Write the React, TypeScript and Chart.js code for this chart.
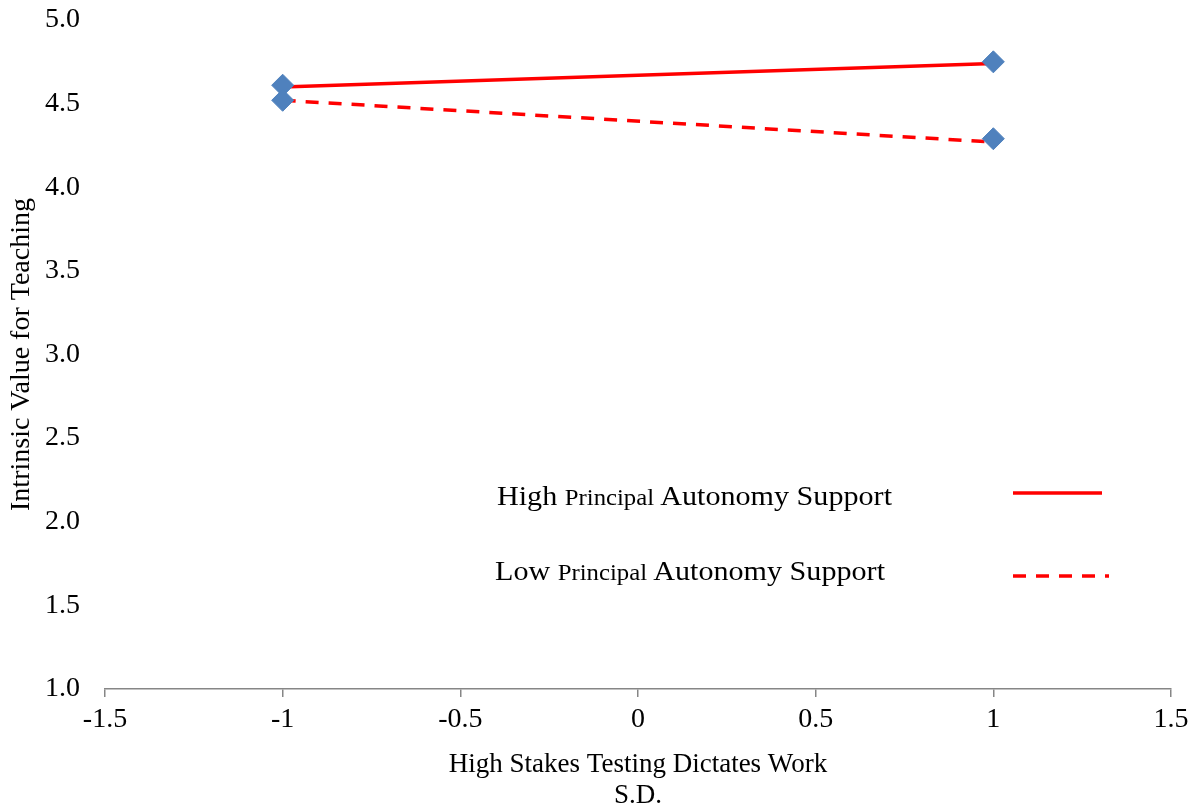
import React, { useEffect, useRef } from "react";
import { Chart, registerables } from "chart.js";

Chart.register(...registerables);

const xTicks = [-1.5, -1, -0.5, 0, 0.5, 1, 1.5];
const yMin = 1;
const yMax = 5;
const yStep = 0.5;

const pointX = [-1, -1, 1, 1];
const pointY = [4.61, 4.52, 4.75, 4.29];

const highX = [-1, 1];
const highY = [4.6, 4.74];

const lowX = [-1, 1];
const lowY = [4.52, 4.27];

const seriesNames = ["High Principal Autonomy Support", "Low Principal Autonomy Support"];
const xTitle = ["High Stakes Testing Dictates Work", "S.D."];
const yTitle = "Intrinsic Value for Teaching";

const FONT = "'Liberation Serif', 'Times New Roman', serif";
const RED = "#FF0000";
const BLUE = "#4F81BD";

const legendPlugin = {
  id: "customLegend",
  afterDraw(chart: any) {
    const ctx = chart.ctx as CanvasRenderingContext2D;
    const rows = [
      { label: seriesNames[0], x: 497, baseline: 505, width: 395, lineY: 493, x1: 1013, x2: 1102, dash: [] as number[] },
      { label: seriesNames[1], x: 495, baseline: 580, width: 390, lineY: 576, x1: 1013, x2: 1109, dash: [13, 10] },
    ];
    rows.forEach((r) => {
      const words = r.label.split(" ");
      const parts = [
        { t: words[0] + " ", size: 28 },
        { t: words[1] + " ", size: 23 },
        { t: words.slice(2).join(" "), size: 28 },
      ];
      ctx.save();
      ctx.fillStyle = "#000";
      ctx.textBaseline = "alphabetic";
      ctx.textAlign = "left";
      let natural = 0;
      parts.forEach((p) => {
        ctx.font = `${p.size}px ${FONT}`;
        natural += ctx.measureText(p.t).width;
      });
      const sx = r.width / natural;
      ctx.translate(r.x, r.baseline);
      ctx.scale(sx, 1);
      let cx = 0;
      parts.forEach((p) => {
        ctx.font = `${p.size}px ${FONT}`;
        ctx.fillText(p.t, cx, 0);
        cx += ctx.measureText(p.t).width;
      });
      ctx.restore();

      ctx.save();
      ctx.strokeStyle = RED;
      ctx.lineWidth = 3.5;
      ctx.setLineDash(r.dash);
      ctx.beginPath();
      ctx.moveTo(r.x1, r.lineY);
      ctx.lineTo(r.x2, r.lineY);
      ctx.stroke();
      ctx.restore();
    });
  },
};

export default function App() {
  const ref = useRef<HTMLCanvasElement | null>(null);

  useEffect(() => {
    if (!ref.current) return;
    Chart.defaults.font.family = FONT;
    Chart.defaults.color = "#000";
    const chart = new Chart(ref.current, {
      type: "scatter",
      data: {
        datasets: [
          {
            label: "points",
            data: pointX.map((x, i) => ({ x, y: pointY[i] })),
            pointStyle: "rectRot",
            pointRadius: 11,
            backgroundColor: BLUE,
            borderColor: BLUE,
            borderWidth: 1,
            showLine: false,
            order: 0,
          },
          {
            label: seriesNames[0],
            data: highX.map((x, i) => ({ x, y: highY[i] })),
            showLine: true,
            borderColor: RED,
            borderWidth: 3.5,
            pointRadius: 0,
            order: 1,
          },
          {
            label: seriesNames[1],
            data: lowX.map((x, i) => ({ x, y: lowY[i] })),
            showLine: true,
            borderColor: RED,
            borderWidth: 3.5,
            borderDash: [13, 10],
            pointRadius: 0,
            order: 2,
          },
        ],
      },
      options: {
        animation: false,
        responsive: false,
        devicePixelRatio: 1,
        layout: { padding: { top: 0, right: 24, left: 0, bottom: 0 } },
        plugins: { legend: { display: false }, tooltip: { enabled: false } },
        scales: {
          x: {
            type: "linear",
            min: xTicks[0],
            max: xTicks[xTicks.length - 1],
            afterBuildTicks: (scale: any) => {
              scale.ticks = xTicks.map((v) => ({ value: v }));
            },
            afterFit: (scale: any) => {
              scale.height = 117;
            },
            ticks: {
              font: { size: 28 },
              padding: 6,
              maxRotation: 0,
              callback: (v: any) => String(v),
            },
            grid: {
              drawOnChartArea: false,
              drawTicks: true,
              tickLength: 8,
              color: "#868686",
              lineWidth: 1.5,
            },
            border: { display: true, color: "#868686", width: 1.5 },
            title: {
              display: true,
              text: xTitle,
              font: { size: 27, lineHeight: 1.15 },
              padding: { top: 0, bottom: -5 },
              color: "#000",
            },
          },
          y: {
            type: "linear",
            min: yMin,
            max: yMax,
            afterFit: (scale: any) => {
              scale.width = 105;
              scale.paddingTop = 20;
              scale.paddingBottom = 0;
            },
            ticks: {
              stepSize: yStep,
              font: { size: 28 },
              padding: 25,
              callback: (v: any) => Number(v).toFixed(1),
            },
            grid: { display: false, drawTicks: false },
            border: { display: false },
            title: {
              display: true,
              text: yTitle,
              font: { size: 28, lineHeight: 1.2 },
              padding: { top: 5, bottom: 0 },
              color: "#000",
            },
          },
        },
      },
      plugins: [legendPlugin],
    } as any);
    return () => chart.destroy();
  }, []);

  return (
    <div style={{ position: "absolute", left: 0, top: 0, width: 1195, height: 806, background: "#fff" }}>
      <canvas ref={ref} width={1195} height={806} style={{ display: "block", width: 1195, height: 806 }} />
    </div>
  );
}
